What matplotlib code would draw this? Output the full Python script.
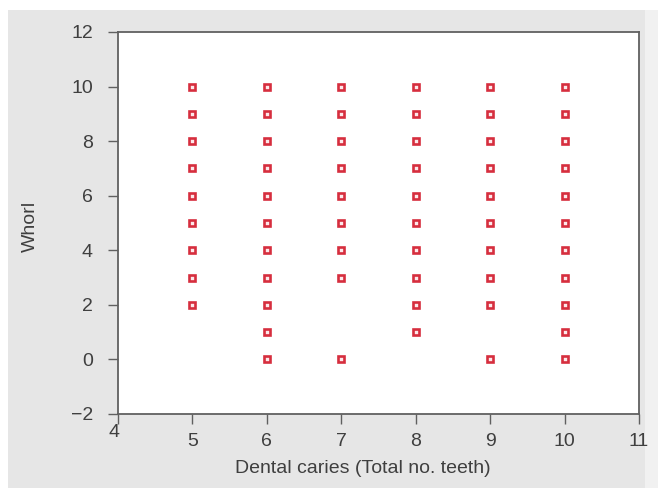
import numpy as np
import matplotlib.pyplot as plt
from matplotlib.patches import Rectangle
from matplotlib.transforms import ScaledTranslation

plt.rcParams['font.family'] = ['Liberation Sans', 'DejaVu Sans']

# data: teeth with caries vs whorl count
caries = [5]*9 + [6]*11 + [7]*9 + [8]*10 + [9]*10 + [10]*11
whorl = ([2, 3, 4, 5, 6, 7, 8, 9, 10]
         + [0, 1, 2, 3, 4, 5, 6, 7, 8, 9, 10]
         + [0, 3, 4, 5, 6, 7, 8, 9, 10]
         + [1, 2, 3, 4, 5, 6, 7, 8, 9, 10]
         + [0, 2, 3, 4, 5, 6, 7, 8, 9, 10]
         + [0, 1, 2, 3, 4, 5, 6, 7, 8, 9, 10])

xticks = [4, 5, 6, 7, 8, 9, 10, 11]
yticks = [-2, 0, 2, 4, 6, 8, 10, 12]

fig = plt.figure(figsize=(6.58, 4.88), dpi=100, facecolor='white')
fig.patches.append(Rectangle((8/658, 0), 637/658, 478/488, transform=fig.transFigure,
                             facecolor='#e6e6e6', edgecolor='none', zorder=-10))
fig.patches.append(Rectangle((645/658, 0), 13/658, 478/488, transform=fig.transFigure,
                             facecolor='#f1f1f1', edgecolor='none', zorder=-10))

ax = fig.add_axes([118/658, 1 - 414/488, 521/658, 382/488])
ax.set_facecolor('white')

ax.plot(caries, whorl, linestyle='none', marker='s', markersize=4.4,
        markerfacecolor='#fde8ea', markeredgecolor='#d62e3e', markeredgewidth=1.9)

ax.set_xlim(4, 11)
ax.set_ylim(-2, 12)
ax.set_xticks(xticks)
ax.set_yticks(yticks)
ax.set_yticklabels(['\u22122' if v < 0 else str(v) for v in yticks])

for s in ax.spines.values():
    s.set_color('#606060')
    s.set_linewidth(1.3)

ax.tick_params(direction='out', length=7, width=1, color='#606060',
               labelsize=14, labelcolor='#3f3f3f', top=False, right=False)
ax.tick_params(axis='y', pad=11)
ax.tick_params(axis='x', pad=7)

# first x label sits higher, next to the -2 label
lbl = ax.get_xticklabels()[0]
lbl.set_transform(lbl.get_transform() + ScaledTranslation(-3/72, 6.5/72, fig.dpi_scale_trans))

ax.set_xlabel('Dental caries (Total no. teeth)', fontsize=14, color='#3f3f3f')
ax.set_ylabel('Whorl', fontsize=14, color='#3f3f3f')
ax.xaxis.set_label_coords(0.47, -0.12)
ax.yaxis.set_label_coords(-0.152, 0.49)

fig.savefig('out.png', dpi=100, facecolor=fig.get_facecolor())
